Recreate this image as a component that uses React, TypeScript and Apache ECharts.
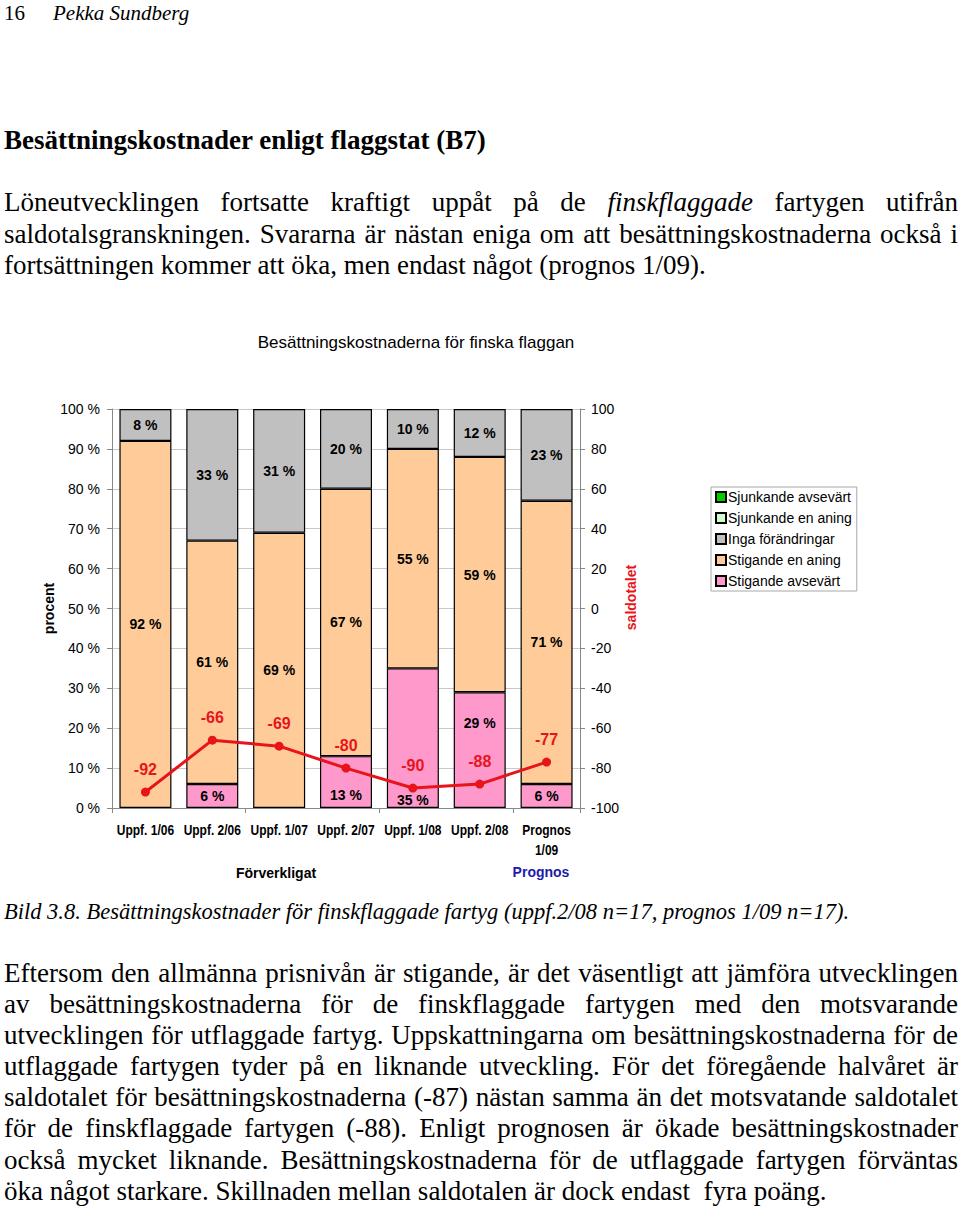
import { useEffect, useRef } from "react";
import * as echarts from "echarts";

const categories = ["Uppf. 1/06", "Uppf. 2/06", "Uppf. 1/07", "Uppf. 2/07", "Uppf. 1/08", "Uppf. 2/08", "Prognos\n1/09"];
const sjunkandeAvsevart = [0, 0, 0, 0, 0, 0, 0];
const sjunkandeEnAning = [0, 0, 0, 0, 0, 0, 0];
const ingaForandringar = [8, 33, 31, 20, 10, 12, 23];
const stigandeEnAning = [92, 61, 69, 67, 55, 59, 71];
const stigandeAvsevart = [0, 6, 0, 13, 35, 29, 6];
const saldotal = [-92, -66, -69, -80, -90, -88, -77];

// label nudges for the pink segments (Excel moved some of them by hand)
const pinkLabelShift = [0, 0, 0, 13, 62, -27, 0];

const para1 = [
  ["Löneutvecklingen fortsatte kraftigt uppåt på de ", "finskflaggade", " fartygen utifrån"],
  ["saldotalsgranskningen. Svararna är nästan eniga om att besättningskostnaderna också i"],
  ["fortsättningen kommer att öka, men endast något (prognos 1/09)."],
];

const para2 = [
  "Eftersom den allmänna prisnivån är stigande, är det väsentligt att jämföra utvecklingen",
  "av besättningskostnaderna för de finskflaggade fartygen med den motsvarande",
  "utvecklingen för utflaggade fartyg. Uppskattningarna om besättningskostnaderna för de",
  "utflaggade fartygen tyder på en liknande utveckling. För det föregående halvåret är",
  "saldotalet för besättningskostnaderna (-87) nästan samma än det motsvatande saldotalet",
  "för de finskflaggade fartygen (-88). Enligt prognosen är ökade besättningskostnader",
  "också mycket liknande. Besättningskostnaderna för de utflaggade fartygen förväntas",
  "öka något starkare. Skillnaden mellan saldotalen är dock endast  fyra poäng.",
];

const SANS = "'Liberation Sans', Arial, sans-serif";
const SERIF = "'Liberation Serif', 'Times New Roman', serif";
const RED = "#e8141b";

const segLabel = { show: true, position: "inside" as const, color: "#000", fontWeight: "bold" as const, fontSize: 14, fontFamily: SANS,
  formatter: (p: any) => (p.value > 0 ? `${p.value} %` : "") };

function Chart() {
  const ref = useRef<HTMLDivElement>(null);

  useEffect(() => {
    if (!ref.current) return;
    const chart = echarts.init(ref.current, null, { renderer: "svg" });
    const border = { borderColor: "#000", borderWidth: 1.2 };
    const barBase = { type: "bar" as const, stack: "p", barWidth: 52 };
    const nz = (a: number[]) => a.map(v => (v === 0 ? "-" : v));

    const staticGraphic = [
      { type: "text", x: 416, y: 42, style: { text: "Besättningskostnaderna för finska flaggan", font: `17px ${SANS}`, fill: "#000", textAlign: "center", textVerticalAlign: "middle" } },
      { type: "text", x: 276, y: 573, style: { text: "Förverkligat", font: `bold 14px ${SANS}`, fill: "#000", textAlign: "center", textVerticalAlign: "middle" } },
      { type: "text", x: 541, y: 572, style: { text: "Prognos", font: `bold 14px ${SANS}`, fill: "#1c1caa", textAlign: "center", textVerticalAlign: "middle" } },
    ];

    chart.setOption({
      animation: false,
      textStyle: { fontFamily: SANS },
      grid: { left: 112, right: 380, top: 109, bottom: 92 },
      legend: {
        orient: "vertical",
        left: 711,
        top: 187,
        data: ["Sjunkande avsevärt", "Sjunkande en aning", "Inga förändringar", "Stigande en aning", "Stigande avsevärt"],
        itemWidth: 10,
        itemHeight: 10,
        itemGap: 7,
        padding: [3, 5, 3, 4],
        borderColor: "#a8a8a8",
        borderWidth: 1,
        icon: "rect",
        textStyle: { fontSize: 14, color: "#000", padding: [0, 0, 0, -3] },
      },
      xAxis: {
        type: "category",
        data: categories,
        axisLine: { lineStyle: { color: "#888" } },
        axisTick: { show: true, length: 5, lineStyle: { color: "#888" } },
        axisLabel: { show: false },
      },
      yAxis: [
        {
          type: "value",
          min: 0,
          max: 100,
          interval: 10,
          name: "procent",
          nameLocation: "middle",
          nameGap: 50,
          nameTextStyle: { fontWeight: "bold", fontSize: 14, color: "#000" },
          axisLine: { show: true, lineStyle: { color: "#888" } },
          axisTick: { show: true, length: 5, lineStyle: { color: "#888" } },
          axisLabel: { color: "#000", fontSize: 14, margin: 12, formatter: (v: number) => `${v} %` },
          splitLine: { lineStyle: { color: "#c8c8c8" } },
        },
        {
          type: "value",
          min: -100,
          max: 100,
          interval: 20,
          name: "saldotalet",
          nameLocation: "middle",
          nameGap: 44,
          nameRotate: 90,
          nameTextStyle: { fontWeight: "bold", fontSize: 14, color: RED, padding: [0, 0, 0, 22] },
          axisLine: { show: true, lineStyle: { color: "#888" } },
          axisTick: { show: true, length: 5, lineStyle: { color: "#888" } },
          axisLabel: { color: "#000", fontSize: 14, margin: 11 },
          splitLine: { show: false },
        },
      ],
      series: [
        { ...barBase, name: "Sjunkande avsevärt", data: nz(sjunkandeAvsevart), itemStyle: { ...border, color: "#00cc00" } },
        { ...barBase, name: "Sjunkande en aning", data: nz(sjunkandeEnAning), itemStyle: { ...border, color: "#ccffcc" } },
        {
          ...barBase,
          name: "Stigande avsevärt",
          data: stigandeAvsevart.map((v, i) => (v === 0 ? "-" : { value: v, label: { offset: [0, pinkLabelShift[i]] } })),
          itemStyle: { ...border, color: "#ff99cc" },
          label: segLabel,
        },
        { ...barBase, name: "Stigande en aning", data: nz(stigandeEnAning), itemStyle: { ...border, color: "#ffcc99" }, label: segLabel },
        { ...barBase, name: "Inga förändringar", data: nz(ingaForandringar), itemStyle: { ...border, color: "#c0c0c0" }, label: segLabel },
        {
          type: "line",
          name: "saldotal",
          yAxisIndex: 1,
          data: saldotal,
          z: 5,
          symbol: "circle",
          symbolSize: 9,
          lineStyle: { color: RED, width: 3 },
          itemStyle: { color: RED },
          label: { show: true, position: "top", distance: 10, color: RED, fontWeight: "bold", fontSize: 16 },
        },
      ],
      graphic: staticGraphic,
    });

    // category labels in a condensed bold face, placed by the category axis
    const catLabels = categories.map((c, i) => ({
      type: "text",
      x: chart.convertToPixel({ xAxisIndex: 0 }, i) as number,
      y: 520,
      scaleX: 0.8,
      style: { text: c, font: `bold 15px ${SANS}`, fill: "#000", textAlign: "center", textVerticalAlign: "top", lineHeight: 20 },
    }));
    chart.setOption({ graphic: [...staticGraphic, ...catLabels] });

    return () => chart.dispose();
  }, []);

  return <div ref={ref} style={{ position: "absolute", left: 0, top: 300, width: 960, height: 600 }} />;
}

const lineCss = (justify: boolean): React.CSSProperties => ({
  width: 954,
  whiteSpace: justify ? "normal" : "pre",
  textAlign: justify ? "justify" : "left",
  textAlignLast: justify ? "justify" : "left",
});

export default function App() {
  return (
    <div style={{ position: "absolute", left: 0, top: 0, width: 960, height: 1206, background: "#fff", fontFamily: SERIF, color: "#000", overflow: "hidden" }}>
      <div style={{ position: "absolute", left: 4, top: 1, fontSize: 21, lineHeight: "24px" }}>
        16<span style={{ fontStyle: "italic", marginLeft: 28 }}>Pekka Sundberg</span>
      </div>
      <div style={{ position: "absolute", left: 4, top: 124, fontSize: 27, lineHeight: "32px", fontWeight: "bold" }}>
        Besättningskostnader enligt flaggstat (B7)
      </div>
      <div style={{ position: "absolute", left: 4, top: 187, fontSize: 27, lineHeight: "31.5px" }}>
        {para1.map((parts, i) => (
          <div key={i} style={lineCss(i < para1.length - 1)}>
            {parts.map((t, j) => (j === 1 ? <i key={j}>{t}</i> : <span key={j}>{t}</span>))}
          </div>
        ))}
      </div>
      <Chart />
      <div style={{ position: "absolute", left: 4, top: 898, fontSize: 22.5, lineHeight: "28px", fontStyle: "italic" }}>
        Bild 3.8. Besättningskostnader för finskflaggade fartyg (uppf.2/08 n=17, prognos 1/09 n=17).
      </div>
      <div style={{ position: "absolute", left: 4, top: 958, fontSize: 27, lineHeight: "31.1px" }}>
        {para2.map((t, i) => (
          <div key={i} style={lineCss(i < para2.length - 1)}>
            {t}
          </div>
        ))}
      </div>
    </div>
  );
}
